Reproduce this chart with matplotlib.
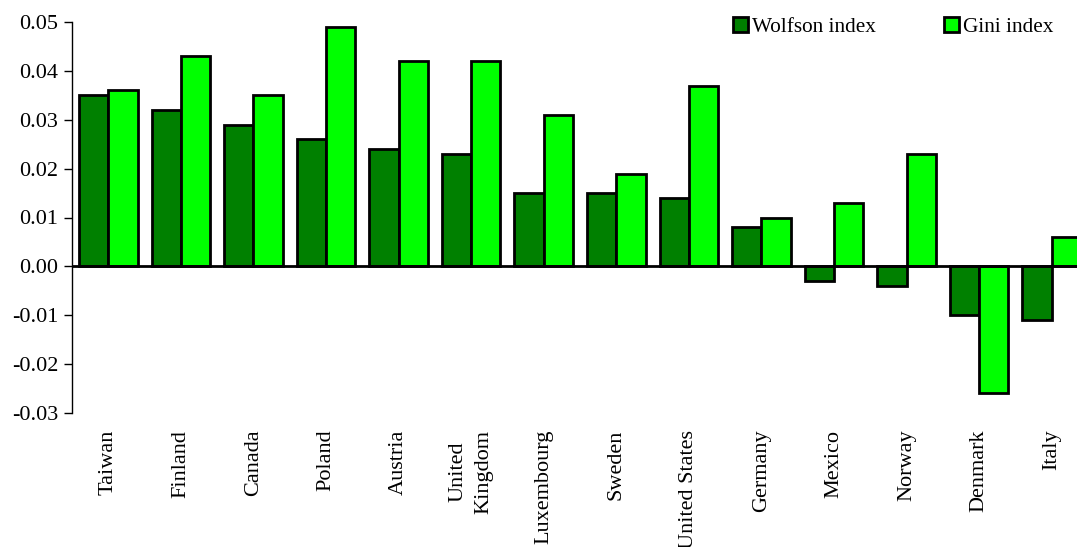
import numpy as np
import matplotlib.pyplot as plt

countries = ["Taiwan", "Finland", "Canada", "Poland", "Austria", "United\nKingdom",
             "Luxembourg", "Sweden", "United States", "Germany", "Mexico", "Norway",
             "Denmark", "Italy"]
wolfson = [0.035, 0.032, 0.029, 0.026, 0.024, 0.023, 0.015, 0.015, 0.014, 0.008,
           -0.003, -0.004, -0.010, -0.011]
gini = [0.036, 0.043, 0.035, 0.049, 0.042, 0.042, 0.031, 0.019, 0.037, 0.010,
        0.013, 0.023, -0.026, 0.006]
yticks = [0.05, 0.04, 0.03, 0.02, 0.01, 0.00, -0.01, -0.02, -0.03]

plt.rcParams['font.family'] = ['Liberation Serif', 'DejaVu Serif']

fig = plt.figure(figsize=(10.77, 5.47), dpi=100)
# axes runs a little past the right edge of the figure
ax = fig.add_axes([72 / 1077, 1 - 413 / 547, 1016 / 1077, 391 / 547])

x = np.arange(len(countries)) + 0.5
w = 0.404
ax.bar(x - w / 2, wolfson, w, color="#008000", edgecolor="black", linewidth=2,
       label="Wolfson index", clip_on=False)
ax.bar(x + w / 2, gini, w, color="#00ff00", edgecolor="black", linewidth=2,
       label="Gini index", clip_on=False)
ax.axhline(0, color="black", linewidth=2)

ax.set_xlim(0, len(countries))
ax.set_ylim(-0.03, 0.05)
ax.set_yticks(yticks)
ax.set_yticklabels(["%.2f" % v for v in yticks], fontsize=16)
ax.set_xticks(x)
ax.set_xticklabels(countries, rotation=90, fontsize=16, linespacing=1.5,
                   multialignment="center")
ax.tick_params(axis="x", length=0, pad=12)
ax.tick_params(axis="y", length=6, width=1, pad=4)

for s in ["top", "right", "bottom"]:
    ax.spines[s].set_visible(False)
ax.spines["left"].set_linewidth(1)

ax.legend(ncol=2, frameon=False, loc="upper left",
          bbox_to_anchor=(714 / 1077, 1 + 2 / 547), bbox_transform=fig.transFigure,
          handlelength=0.7, handleheight=0.7, handletextpad=0.2,
          columnspacing=3.2, fontsize=15.3)

fig.savefig("out.png", dpi=100)
